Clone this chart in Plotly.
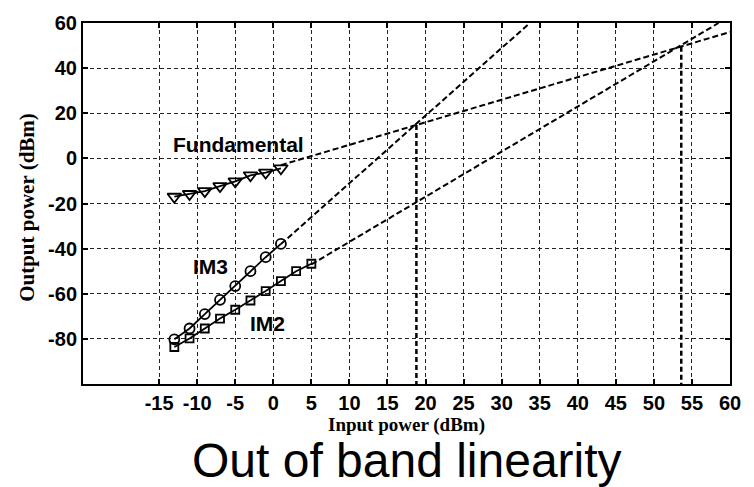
import plotly.graph_objects as go

# ---- data ----
fund_x = [-13, -11, -9, -7, -5, -3, -1, 1]
fund_y = [-17.0, -15.8, -14.5, -12.3, -10.2, -7.5, -6.3, -4.4]

im3_x = [-13, -11, -9, -7, -5, -3, -1, 1]
im3_y = [-80.2, -75.4, -69.0, -62.7, -56.6, -50.0, -43.8, -37.9]

im2_x = [-13, -11, -9, -7, -5, -3, -1, 1, 3, 5]
im2_y = [-83.6, -79.8, -75.4, -71.0, -67.1, -63.0, -58.8, -54.4, -50.0, -46.7]

# extrapolation lines (start / end points)
fund_ext_x = [1, 60]
fund_ext_y = [-3, 56]
im3_ext_x = [1, 33.7]
im3_ext_y = [-38, 60]
im2_ext_x = [5, 58.5]
im2_ext_y = [-47, 60]

# intercept points (IIP3, IIP2) with drop lines to the axis floor
iip3 = (18.8, 14.8)
iip2 = (53.6, 49.5)
y_floor = -100

x_ticks = list(range(-15, 61, 5))
y_ticks = list(range(-80, 61, 20))

labels = ["Fundamental", "IM3", "IM2"]
label_x = [-4.6, -8.3, -0.8]
label_y = [6.2, -48.1, -73.0]

BLACK = "#000000"
fig = go.Figure()

ext_style = dict(color=BLACK, width=2, dash="6px,3px")
for ex, ey in [(fund_ext_x, fund_ext_y), (im3_ext_x, im3_ext_y), (im2_ext_x, im2_ext_y)]:
    fig.add_trace(go.Scatter(x=ex, y=ey, mode="lines", line=ext_style,
                             showlegend=False, hoverinfo="skip"))

for px, py in [iip3, iip2]:
    fig.add_trace(go.Scatter(x=[px, px], y=[py, y_floor], mode="lines",
                             line=dict(color=BLACK, width=2.5, dash="5px,3px"),
                             showlegend=False, hoverinfo="skip"))

series = [
    (fund_x, fund_y, "triangle-down-open", 12),
    (im3_x, im3_y, "circle-open", 10),
    (im2_x, im2_y, "square-open", 8),
]
for sx, sy, sym, sz in series:
    fig.add_trace(go.Scatter(
        x=sx, y=sy, mode="lines+markers",
        line=dict(color=BLACK, width=1.8),
        marker=dict(symbol=sym, size=sz, color=BLACK, line=dict(color=BLACK, width=1.8)),
        showlegend=False))

for t, lx, ly in zip(labels, label_x, label_y):
    fig.add_annotation(x=lx, y=ly, text=t, showarrow=False,
                       font=dict(family="Liberation Sans, Arial", size=21, color=BLACK, weight="bold"),
                       xanchor="center", yanchor="middle")

fig.add_annotation(xref="paper", yref="paper", x=0.5, y=-0.113,
                   text="Input power (dBm)", showarrow=False,
                   font=dict(family="Liberation Serif, Times New Roman", size=19, color=BLACK, weight="bold"),
                   xanchor="center", yanchor="middle")
fig.add_annotation(xref="paper", yref="paper", x=-0.086, y=0.489,
                   text="Output power (dBm)", showarrow=False, textangle=-90,
                   font=dict(family="Liberation Serif, Times New Roman", size=21, color=BLACK, weight="bold"),
                   xanchor="center", yanchor="middle")
fig.add_annotation(xref="paper", yref="paper", x=0.5, y=-0.213,
                   text="Out of band linearity", showarrow=False,
                   font=dict(family="Liberation Sans, Arial", size=48, color=BLACK),
                   xanchor="center", yanchor="middle")

axis_common = dict(
    showline=True, linecolor=BLACK, linewidth=2, mirror="ticks",
    ticks="inside", ticklen=5, tickwidth=1.5, tickcolor=BLACK,
    showgrid=True, gridcolor="#222222", gridwidth=1, griddash="4px,3px",
    zeroline=False,
    tickfont=dict(family="Liberation Sans, Arial", size=20, color=BLACK, weight="bold"),
)

fig.update_xaxes(range=[-25, 60], tickmode="array", tickvals=x_ticks,
                 ticktext=[str(v) for v in x_ticks], **axis_common)
fig.update_yaxes(range=[-100, 60], tickmode="array", tickvals=y_ticks,
                 ticktext=[str(v) for v in y_ticks], **axis_common)

fig.update_layout(
    width=754, height=487,
    margin=dict(l=83, r=24, t=18, b=103),
    paper_bgcolor="white", plot_bgcolor="white",
    showlegend=False,
)

fig.write_html("out.html")
